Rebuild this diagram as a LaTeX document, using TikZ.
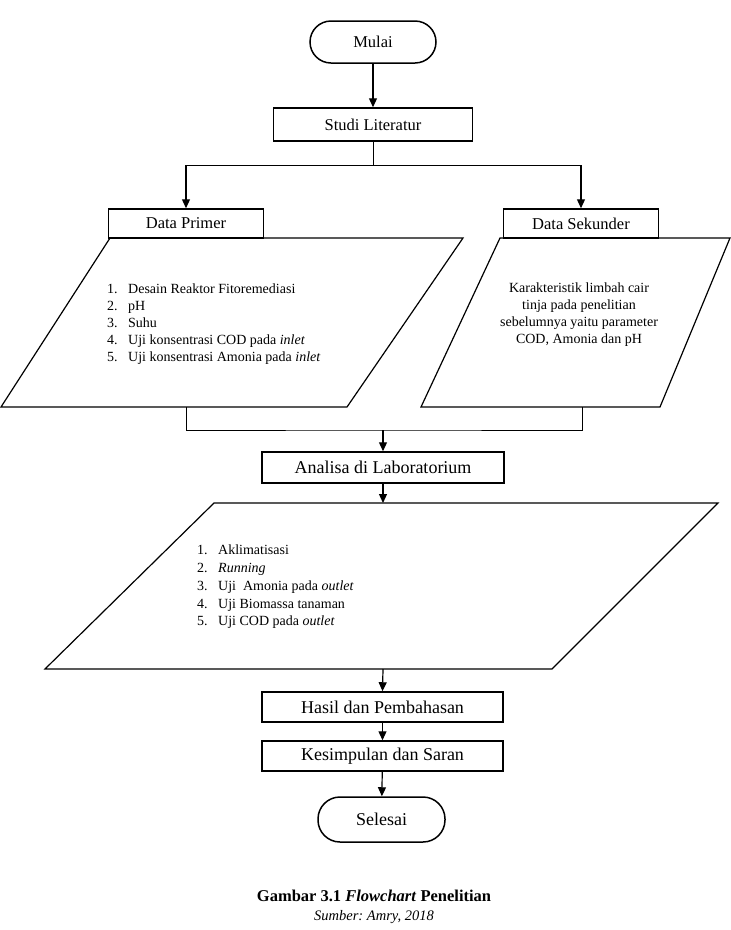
\documentclass[tikz,border=0pt]{standalone}
\usepackage{fontspec}
\setmainfont{Liberation Serif}
\usetikzlibrary{arrows.meta}
\frenchspacing

\newcommand{\itemno}[1]{\makebox[21pt][l]{#1}}

\begin{document}
\begin{tikzpicture}[x=1pt,y=-1pt,
    box/.style={draw,line width=1.5pt,inner sep=0pt,font=\fontsize{18}{20}\selectfont},
    smallbox/.style={box,font=\fontsize{16.5}{19}\selectfont},
    term/.style={box,rounded corners=21pt},
    para/.style={line width=1.2pt},
    conn/.style={line width=0.8pt},
    arr/.style={line width=1.2pt,-{Triangle[length=9pt,width=8pt]}},
    list/.style={inner sep=0pt,align=left,font=\fontsize{14}{17}\selectfont}]
    \useasboundingbox (0,0) rectangle (731,930);

    % start and first step
    \node[term,smallbox,rounded corners=21pt,minimum width=126pt,minimum height=42pt] (mulai) at (373,42) {Mulai};
    \node[smallbox,minimum width=199pt,minimum height=33pt] (studi) at (373,124.5) {Studi Literatur};

    % data boxes
    \node[smallbox,minimum width=155pt,minimum height=29pt] (primer) at (186,223.5) {Data Primer};
    \node[smallbox,minimum width=155pt,minimum height=29pt] (sekunder) at (581,223.5) {Data Sekunder};

    % parallelograms under the data boxes
    \coordinate (p1) at (110,238);
    \coordinate (p2) at (463,238);
    \coordinate (p3) at (347,407);
    \coordinate (p4) at (1,407);
    \draw[para] (p1) -- (p2) -- (p3) -- (p4) -- cycle;
    \node[list,anchor=north west] (primerlist) at (107,284)
        {\itemno{1.}Desain Reaktor Fitoremediasi\\
         \itemno{2.}pH\\
         \itemno{3.}Suhu\\
         \itemno{4.}Uji konsentrasi COD pada \textit{inlet}\\
         \itemno{5.}Uji konsentrasi Amonia pada \textit{inlet}};

    \coordinate (s1) at (500,238);
    \coordinate (s2) at (730,238);
    \coordinate (s3) at (660,407);
    \coordinate (s4) at (421,407);
    \draw[para] (s1) -- (s2) -- (s3) -- (s4) -- cycle;
    \node[list,align=center] (sekunderteks) at (579,315)
        {Karakteristik limbah cair\\
         tinja pada penelitian\\
         sebelumnya yaitu parameter\\
         COD, Amonia dan pH};

    % laboratory part
    \node[box,minimum width=242pt,minimum height=31pt] (analisa) at (383,467.5) {Analisa di Laboratorium};

    \coordinate (l1) at (214,503);
    \coordinate (l2) at (718,503);
    \coordinate (l3) at (552,669);
    \coordinate (l4) at (45,669);
    \draw[para] (l1) -- (l2) -- (l3) -- (l4) -- cycle;
    \node[list,anchor=north west,font=\fontsize{14}{17.7}\selectfont] (lablist) at (197,545)
        {\itemno{1.}Aklimatisasi\\
         \itemno{2.}\textit{Running}\\
         \itemno{3.}Uji\ \ Amonia pada \textit{outlet}\\
         \itemno{4.}Uji Biomassa tanaman\\
         \itemno{5.}Uji COD pada \textit{outlet}};

    % end
    \node[box,minimum width=241pt,minimum height=30pt] (hasil) at (382.5,707) {Hasil dan Pembahasan};
    \node[box,minimum width=241pt,minimum height=30pt] (simpulan) at (382.5,756) {Kesimpulan dan Saran};
    \node[term,minimum width=127pt,minimum height=45pt,rounded corners=22pt] (selesai) at (381.5,819.5) {Selesai};

    % connectors
    \coordinate (split) at (373,165);
    \coordinate (pbot) at (186,407);
    \coordinate (sbot) at (582,407);
    \coordinate (join) at (383,430);
    \coordinate (labtop) at (383,503);
    \coordinate (labbot) at (383,669);
    \draw[arr] (mulai) -- (studi);
    \draw[conn] (studi.south) -- (split);
    \draw[conn] (primer.north |- split) -- (sekunder.north |- split);
    \draw[arr] (primer.north |- split) -- (primer.north);
    \draw[arr] (sekunder.north |- split) -- (sekunder.north);
    \draw[conn] (pbot) |- (join) -| (sbot);
    \draw[arr] (join) -- (analisa.north);
    \draw[arr] (analisa.south) -- (labtop);
    \draw[arr] (labbot) -- (hasil.north);
    \draw[arr] (hasil) -- (simpulan);
    \draw[arr] (simpulan) -- (selesai);

    % caption
    \node[font=\fontsize{16.5}{19}\selectfont\bfseries] (judul) at (374,896) {Gambar 3.1 \textit{Flowchart} Penelitian};
    \node[font=\fontsize{14.5}{17}\selectfont\itshape] (sumber) at (374,917) {Sumber: Amry, 2018};
\end{tikzpicture}
\end{document}
